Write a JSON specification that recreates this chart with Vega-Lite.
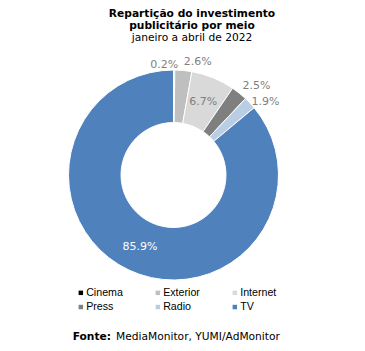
{
  "$schema": "https://vega.github.io/schema/vega-lite/v6.json",
  "padding": {"top": 7, "left": 0, "right": 0, "bottom": 0},
  "background": "white",
  "spacing": 0,
  "config": {"view": {"stroke": null}, "font": "DejaVu Sans"},
  "datasets": {
    "shares": [
      {"idx": 1, "media": "Cinema", "value": 0.2, "label": "0.2%"},
      {"idx": 2, "media": "Exterior", "value": 2.6, "label": "2.6%"},
      {"idx": 3, "media": "Internet", "value": 6.7, "label": "6.7%"},
      {"idx": 4, "media": "Press", "value": 2.5, "label": "2.5%"},
      {"idx": 5, "media": "Radio", "value": 1.9, "label": "1.9%"},
      {"idx": 6, "media": "TV", "value": 85.9, "label": "85.9%"}
    ],
    "footer": [
      {"prefix": "Fonte:", "source": "MediaMonitor, YUMI/AdMonitor"}
    ]
  },
  "resolve": {"scale": {"color": "independent"}, "legend": {"color": "independent"}},
  "vconcat": [
    {
      "width": 347,
      "height": 210,
      "title": {
        "text": ["Repartição do investimento", "publicitário por meio"],
        "subtitle": "janeiro a abril de 2022",
        "font": "DejaVu Sans",
        "fontSize": 10.67,
        "fontWeight": "bold",
        "lineHeight": 12,
        "color": "#000000",
        "subtitleFont": "DejaVu Sans",
        "subtitleFontSize": 10.67,
        "subtitleLineHeight": 12,
        "subtitleColor": "#000000",
        "subtitlePadding": 2,
        "anchor": "middle",
        "dx": 18.5,
        "offset": 12
      },
      "data": {"name": "shares"},
      "encoding": {
        "theta": {"field": "value", "type": "quantitative", "stack": true},
        "order": {"field": "idx", "type": "quantitative"}
      },
      "layer": [
        {
          "mark": {"type": "arc", "innerRadius": 52.5, "outerRadius": 105, "stroke": "white", "strokeWidth": 1},
          "encoding": {
            "color": {
              "field": "media",
              "type": "nominal",
              "scale": {
                "domain": ["Cinema", "Exterior", "Internet", "Press", "Radio", "TV"],
                "range": ["#000000", "#bfbfbf", "#d9d9d9", "#7f7f7f", "#b9cde5", "#4f81bd"]
              },
              "legend": {
                "orient": "none",
                "legendX": 75.5,
                "legendY": 217,
                "direction": "horizontal",
                "columns": 3,
                "title": null,
                "symbolType": "square",
                "symbolSize": 20,
                "symbolStrokeWidth": 0,
                "labelFont": "Liberation Sans",
                "labelFontSize": 10.67,
                "labelColor": "#000000",
                "labelOffset": 0,
                "columnPadding": 29,
                "rowPadding": 2.7,
                "padding": 0
              }
            }
          }
        },
        {
          "mark": {"type": "text", "radius": 110, "align": "left", "baseline": "alphabetic", "font": "DejaVu Sans", "fontSize": 11, "color": "#7f7f7f"},
          "encoding": {
            "text": {"condition": {"test": "datum.media === 'Exterior' || datum.media === 'Press'", "field": "label"}, "value": ""}
          }
        },
        {
          "mark": {"type": "text", "radius": 107, "align": "left", "baseline": "middle", "font": "DejaVu Sans", "fontSize": 11, "color": "#7f7f7f"},
          "encoding": {
            "text": {"condition": {"test": "datum.media === 'Radio'", "field": "label"}, "value": ""}
          }
        },
        {
          "mark": {"type": "text", "radius": 107, "align": "right", "baseline": "alphabetic", "dx": 4, "font": "DejaVu Sans", "fontSize": 11, "color": "#7f7f7f"},
          "encoding": {
            "text": {"condition": {"test": "datum.media === 'Cinema'", "field": "label"}, "value": ""}
          }
        },
        {
          "mark": {"type": "text", "radius": 79, "align": "center", "baseline": "middle", "font": "DejaVu Sans", "fontSize": 11, "color": "#7f7f7f"},
          "encoding": {
            "text": {"condition": {"test": "datum.media === 'Internet'", "field": "label"}, "value": ""}
          }
        },
        {
          "mark": {"type": "text", "radius": 79, "align": "center", "baseline": "middle", "font": "DejaVu Sans", "fontSize": 11, "color": "#ffffff"},
          "encoding": {
            "text": {"condition": {"test": "datum.media === 'TV'", "field": "label"}, "value": ""}
          }
        }
      ]
    },
    {
      "width": 347,
      "height": 50,
      "data": {"name": "footer"},
      "layer": [
        {
          "mark": {"type": "text", "align": "right", "baseline": "middle", "dx": -62.5, "font": "DejaVu Sans", "fontSize": 10.67, "fontWeight": "bold", "color": "#000000"},
          "encoding": {"text": {"field": "prefix"}}
        },
        {
          "mark": {"type": "text", "align": "left", "baseline": "middle", "dx": -57.5, "font": "DejaVu Sans", "fontSize": 10.67, "color": "#000000"},
          "encoding": {"text": {"field": "source"}}
        }
      ]
    }
  ]
}
